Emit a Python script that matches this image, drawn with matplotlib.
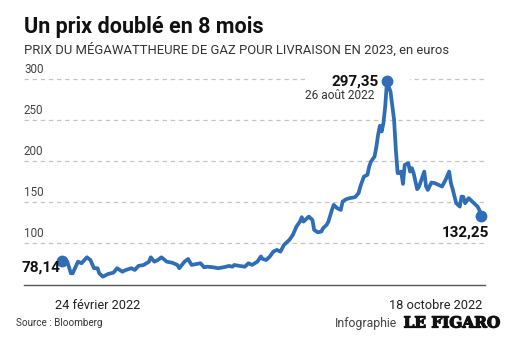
import matplotlib
matplotlib.use("Agg")
import matplotlib.pyplot as plt
import matplotlib.dates as mdates
import matplotlib.patheffects as pe
from matplotlib.patches import Rectangle
import numpy as np
import pandas as pd

# Gas price, delivery 2023 (EUR/MWh), 24 Feb 2022 -> 18 Oct 2022
start_date = "2022-02-24"
day_offsets = [
    0, 3, 5, 6, 9, 11, 14, 16, 18, 20, 21, 23, 26, 29, 31, 34, 36, 39, 41, 43,
    46, 49, 50, 52, 54, 56, 59, 62, 65, 66, 69, 71, 73, 76, 78, 80, 82, 85, 88, 91,
    94, 96, 97, 100, 103, 105, 107, 110, 112, 113, 115, 117, 119, 121, 123, 125, 126, 128, 130, 132,
    134, 135, 136, 138, 139, 141, 142, 144, 146, 147, 149, 150, 152, 153, 155, 157, 158, 160, 162, 165,
    167, 168, 170, 172, 173, 174, 176, 177, 178, 179, 180, 181, 182, 183, 185, 187, 188, 189, 190, 191,
    192, 193, 195, 196, 197, 198, 200, 201, 203, 204, 205, 206, 208, 210, 212, 214, 216, 218, 219, 220,
    222, 224, 225, 226, 227, 229, 230, 232, 234, 235, 236,
]
prices = [
    78.14, 76.7, 62.5, 62.5, 76.7, 74.8, 82.1, 78.8, 68.7, 68.7, 62.5, 58.4, 61.7, 63.3, 68.7, 64.5, 66.6, 68.7, 66.6, 71.5,
    72.7, 76.7, 82.1, 76.7, 78.8, 82.1, 76.7, 75.5, 72.7, 68.7, 76.7, 80.0, 72.7, 73.9, 74.8, 69.9, 70.6, 69.9, 68.7, 69.9,
    71.5, 70.6, 72.7, 71.5, 70.6, 74.8, 72.7, 76.7, 83.1, 80.0, 78.8, 82.9, 89.0, 91.1, 89.0, 97.2, 99.3, 103.3, 109.4, 119.6,
    125.7, 131.1, 125.7, 129.9, 131.8, 127.8, 115.6, 112.7, 113.5, 117.6, 121.7, 125.7, 140.0, 146.2, 142.1, 140.0, 150.2, 153.1, 154.4, 155.6,
    160.5, 168.6, 180.8, 182.9, 193.1, 199.2, 205.3, 216.8, 231.9, 242.9, 235.9, 246.2, 266.5, 297.35, 284.5, 250.2, 213.5, 185.0, 185.3, 186.9,
    171.9, 195.1, 197.2, 186.9, 191.1, 185.0, 165.4, 168.2, 180.8, 186.9, 168.6, 164.5, 173.5, 172.7, 170.7, 168.6, 176.8, 186.9, 172.7, 165.4,
    148.2, 144.1, 156.3, 156.0, 148.2, 154.4, 152.3, 148.2, 144.1, 140.0, 132.25,
]
y_ticks = [100, 150, 200, 250, 300]

dates = pd.Timestamp(start_date) + pd.to_timedelta(day_offsets, unit="D")
prices = np.array(prices)
i_peak = int(np.argmax(prices))

W, H = 526, 346
fig = plt.figure(figsize=(W / 100, H / 100), dpi=100)
fig.patch.set_facecolor("white")

def fx(px):
    return px / W

def fy(py):
    return 1 - py / H

FONT = "Roboto"
BLUE = "#2f6db5"

# plot area (pixels): x 24..485, y 75..285
ax = fig.add_axes([fx(24), fy(285), fx(485) - fx(24), fy(75) - fy(285)])
ax.set_facecolor("none")
d0 = pd.Timestamp(start_date)
ax.set_xlim(mdates.date2num(d0 - pd.Timedelta(days=21.4)), mdates.date2num(d0 + pd.Timedelta(days=238.2)))
ax.set_ylim(48.2, 305)

for s in ["top", "right", "left"]:
    ax.spines[s].set_visible(False)
ax.spines["bottom"].set_color("#555555")
ax.spines["bottom"].set_linewidth(1.0)
ax.set_xticks([])
ax.set_yticks([])

# dashed grid with the value written above each line
for v in y_ticks:
    ax.axhline(v, color="#c4c4c4", lw=0.9, ls=(0, (3.5, 3)), zorder=1)
    ax.text(0.0, v + 3.5, str(v), transform=ax.get_yaxis_transform(), ha="left", va="bottom",
            fontsize=8.4, family=FONT, color="#444444")

# white mask behind the peak label
peak_x = mdates.date2num(dates[i_peak])
ax.add_patch(Rectangle((peak_x - 46, 291), 59, 16, facecolor="white", edgecolor="none", zorder=2))

ax.plot(dates, prices, color=BLUE, lw=2.7, solid_joinstyle="round", solid_capstyle="round", zorder=3)
for i in [0, i_peak, len(prices) - 1]:
    ax.plot(dates[i], prices[i], "o", color=BLUE, ms=7.5, zorder=4, clip_on=False)

def fmt(v):
    return f"{v:.2f}".replace(".", ",")

ax.annotate(fmt(prices[i_peak]), (dates[i_peak], prices[i_peak]), xytext=(-6, 0),
            textcoords="offset points", ha="right", va="center", fontsize=11,
            fontweight="bold", family=FONT, color="#111111", zorder=5)
ax.annotate("26 août 2022", (dates[i_peak], prices[i_peak]), xytext=(-9, -10),
            textcoords="offset points", ha="right", va="center", fontsize=8.6,
            family=FONT, color="#333333", zorder=5)
ax.annotate(fmt(prices[-1]), (dates[-1], prices[-1]), xytext=(6, -12),
            textcoords="offset points", ha="right", va="center", fontsize=11,
            fontweight="bold", family=FONT, color="#111111", zorder=5)
ax.annotate(fmt(prices[0]), (dates[0], prices[0]), xytext=(-1, -5),
            textcoords="offset points", ha="right", va="center", fontsize=11,
            fontweight="bold", family=FONT, color="#111111", zorder=5)

# date labels under the axis
ax.annotate("24 février 2022", (dates[0], 48.2), xytext=(-5, -15), textcoords="offset points",
            ha="left", va="center", fontsize=9.2, family=FONT, color="#222222", annotation_clip=False)
ax.annotate("18 octobre 2022", (dates[-1], 48.2), xytext=(1, -15), textcoords="offset points",
            ha="right", va="center", fontsize=9.2, family=FONT, color="#222222", annotation_clip=False)

# headings
fig.text(fx(24), fy(32.5), "Un prix doublé en 8 mois", ha="left", va="baseline",
         fontsize=15.5, fontweight="bold", family=FONT, color="#111111")
fig.text(fx(24), fy(54), "PRIX DU MÉGAWATTHEURE DE GAZ POUR LIVRAISON EN 2023, en euros",
         ha="left", va="baseline", fontsize=9.4, family=FONT, color="#333333")

# footer
fig.text(fx(16), fy(323.5), "Source : Bloomberg", ha="left", va="center",
         fontsize=7.1, family=FONT, color="#333333")
fig.text(fx(397), fy(323.5), "Infographie", ha="right", va="center",
         fontsize=8.8, family=FONT, color="#444444")
fig.text(fx(500), fy(323.5), "LE FIGARO", ha="right", va="center",
         fontsize=11, fontweight="bold", family="DejaVu Serif", color="#111111",
         path_effects=[pe.withStroke(linewidth=0.9, foreground="#111111")])

fig.savefig("out.png", dpi=100, facecolor="white")
